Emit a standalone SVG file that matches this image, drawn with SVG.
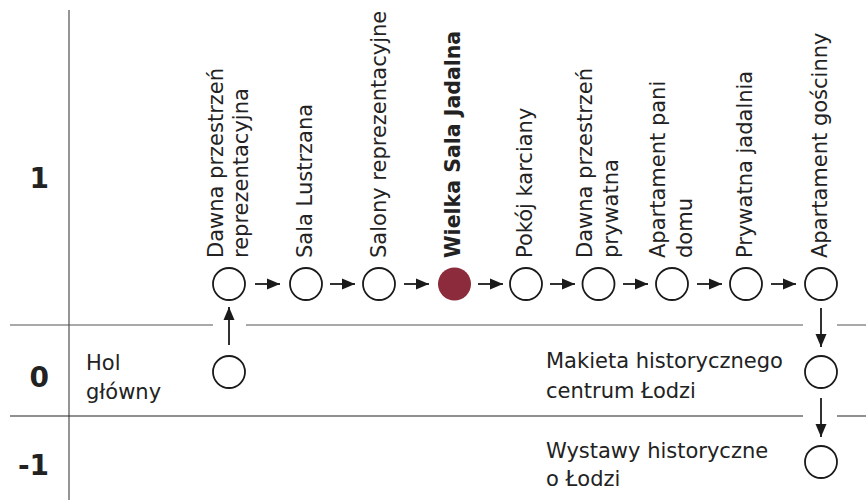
<svg xmlns="http://www.w3.org/2000/svg" width="866" height="500" viewBox="0 0 866 500">
<style>
.lbl{font-family:"DejaVu Sans",sans-serif;font-size:21px;fill:#222}
.bold{font-weight:bold;font-size:20.5px}
.lvl{font-family:"DejaVu Sans",sans-serif;font-size:28px;font-weight:bold;fill:#222;text-anchor:end}
.node{fill:#fff;stroke:#1a1a1a;stroke-width:1.8}
.edge{stroke:#1a1a1a;stroke-width:1.8;fill:none;marker-end:url(#ah)}
</style>
<defs>
<marker id="ah" markerUnits="userSpaceOnUse" markerWidth="14" markerHeight="12" refX="13" refY="6" orient="auto">
<path d="M0,0.5 L13,6 L0,11.5 z" fill="#1a1a1a"/>
</marker>
</defs>
<rect width="866" height="500" fill="#fff"/>
<g id="grid">
<line x1="69" y1="10" x2="69" y2="500" stroke="#8a8a8a" stroke-width="1.8"/>
<path d="M10,325 H213 M246,325 H803 M837,325 H866" stroke="#555" stroke-width="1.2" fill="none"/>
<path d="M10,416 H803 M837,416 H866" stroke="#222" stroke-width="1.2" fill="none"/>
<text class="lvl" x="49" y="188">1</text>
<text class="lvl" x="49" y="387">0</text>
<text class="lvl" x="49" y="475">-1</text>
</g>
<g id="connectors">
<line class="edge" x1="255" y1="284" x2="280" y2="284"/>
<line class="edge" x1="330" y1="284" x2="355" y2="284"/>
<line class="edge" x1="404" y1="284" x2="429" y2="284"/>
<line class="edge" x1="478" y1="284" x2="503" y2="284"/>
<line class="edge" x1="550" y1="284" x2="575" y2="284"/>
<line class="edge" x1="623" y1="284" x2="648" y2="284"/>
<line class="edge" x1="697" y1="284" x2="722" y2="284"/>
<line class="edge" x1="771" y1="284" x2="796" y2="284"/>
<line class="edge" x1="229" y1="345" x2="229" y2="307"/>
<line class="edge" x1="821" y1="308" x2="821" y2="347"/>
<line class="edge" x1="821" y1="398" x2="821" y2="437"/>
</g>
<g id="n-dawna-rep">
<circle class="node" cx="229" cy="284" r="16"/>
<text class="lbl" transform="translate(223,258) rotate(-90)">Dawna przestrzeń</text>
<text class="lbl" transform="translate(248,258) rotate(-90)">reprezentacyjna</text>
</g>
<g id="n-sala-lustrzana">
<circle class="node" cx="306" cy="284" r="16"/>
<text class="lbl" transform="translate(312,258) rotate(-90)">Sala Lustrzana</text>
</g>
<g id="n-salony">
<circle class="node" cx="379" cy="284" r="16"/>
<text class="lbl" transform="translate(386,258) rotate(-90)">Salony reprezentacyjne</text>
</g>
<g id="n-wielka">
<circle cx="454.5" cy="284" r="16.5" fill="#8b2b3b"/>
<text class="lbl bold" transform="translate(460,258) rotate(-90)">Wielka Sala Jadalna</text>
</g>
<g id="n-pokoj">
<circle class="node" cx="526" cy="284" r="16"/>
<text class="lbl" transform="translate(532,258) rotate(-90)">Pokój karciany</text>
</g>
<g id="n-dawna-pryw">
<circle class="node" cx="598.5" cy="284" r="16"/>
<text class="lbl" transform="translate(592,258) rotate(-90)">Dawna przestrzeń</text>
<text class="lbl" transform="translate(618,258) rotate(-90)">prywatna</text>
</g>
<g id="n-apartament-pani">
<circle class="node" cx="672" cy="284" r="16"/>
<text class="lbl" transform="translate(665,258) rotate(-90)">Apartament pani</text>
<text class="lbl" transform="translate(692,258) rotate(-90)">domu</text>
</g>
<g id="n-prywatna-jadalnia">
<circle class="node" cx="746" cy="284" r="16"/>
<text class="lbl" transform="translate(752,258) rotate(-90)">Prywatna jadalnia</text>
</g>
<g id="n-apartament-goscinny">
<circle class="node" cx="821" cy="284" r="16"/>
<text class="lbl" transform="translate(827,258) rotate(-90)">Apartament gościnny</text>
</g>
<g id="n-hol">
<circle class="node" cx="229" cy="372" r="16"/>
<text class="lbl" x="86" y="370">Hol</text>
<text class="lbl" x="86" y="399">główny</text>
</g>
<g id="n-makieta">
<circle class="node" cx="821" cy="372" r="16"/>
<text class="lbl" x="546" y="368">Makieta historycznego</text>
<text class="lbl" x="546" y="398">centrum Łodzi</text>
</g>
<g id="n-wystawy">
<circle class="node" cx="821" cy="462" r="16"/>
<text class="lbl" x="546" y="458">Wystawy historyczne</text>
<text class="lbl" x="546" y="486">o Łodzi</text>
</g>
</svg>
